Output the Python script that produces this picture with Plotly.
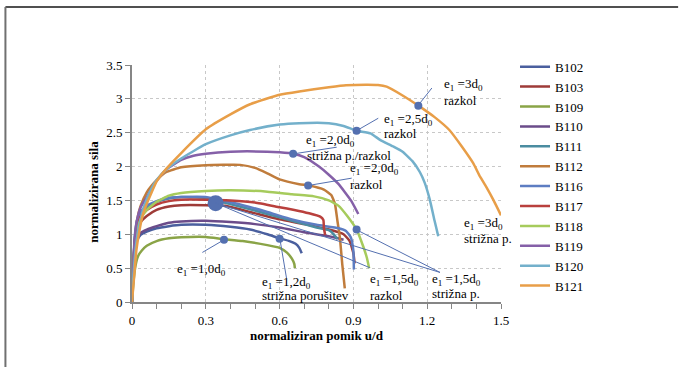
import plotly.graph_objects as go

names = ["B102", "B103", "B109", "B110", "B111", "B112", "B116", "B117", "B118", "B119", "B120", "B121"]
colors = ["#4A5F9E", "#9E3B38", "#8AA447", "#6B4C8A", "#4A8CA0", "#C07C3C",
          "#5D7DC2", "#B9403D", "#A6CB5C", "#8560A8", "#73B0CB", "#E89E48"]

x_B102 = [0, 0.005, 0.012, 0.02, 0.035, 0.06, 0.1, 0.15, 0.2, 0.3, 0.4, 0.48, 0.55, 0.6, 0.64, 0.665, 0.68, 0.69]
y_B102 = [0, 0.4, 0.75, 0.9, 0.99, 1.04, 1.09, 1.12, 1.14, 1.14, 1.11, 1.07, 1.0, 0.94, 0.9, 0.86, 0.8, 0.72]

x_B103 = [0, 0.005, 0.012, 0.02, 0.035, 0.06, 0.1, 0.15, 0.2, 0.3, 0.38, 0.48, 0.6, 0.7, 0.8, 0.86, 0.885, 0.9, 0.905]
y_B103 = [0, 0.45, 0.85, 1.05, 1.18, 1.27, 1.36, 1.41, 1.43, 1.43, 1.42, 1.33, 1.22, 1.15, 1.07, 1.0, 0.9, 0.72, 0.57]

x_B109 = [0, 0.006, 0.015, 0.025, 0.04, 0.06, 0.1, 0.15, 0.2, 0.3, 0.37, 0.45, 0.55, 0.6, 0.63, 0.65, 0.66, 0.662]
y_B109 = [0, 0.3, 0.55, 0.68, 0.76, 0.83, 0.9, 0.94, 0.955, 0.96, 0.93, 0.9, 0.84, 0.8, 0.73, 0.64, 0.56, 0.5]

x_B110 = [0, 0.005, 0.012, 0.02, 0.035, 0.06, 0.1, 0.15, 0.2, 0.3, 0.4, 0.5, 0.6, 0.7, 0.8, 0.86]
y_B110 = [0, 0.42, 0.78, 0.93, 1.02, 1.07, 1.12, 1.17, 1.19, 1.2, 1.18, 1.15, 1.1, 1.03, 0.97, 0.92]

x_B111 = [0, 0.005, 0.012, 0.02, 0.035, 0.06, 0.1, 0.15, 0.2, 0.3, 0.34, 0.45, 0.55, 0.65, 0.75, 0.8, 0.82, 0.835]
y_B111 = [0, 0.5, 0.95, 1.15, 1.3, 1.4, 1.48, 1.53, 1.55, 1.54, 1.5, 1.4, 1.3, 1.2, 1.1, 1.06, 1.0, 0.93]

x_B112 = [0, 0.005, 0.012, 0.02, 0.035, 0.06, 0.08, 0.1, 0.14, 0.2, 0.3, 0.44, 0.5, 0.55, 0.6, 0.68, 0.72,
          0.78, 0.81, 0.825, 0.835, 0.845, 0.855, 0.865]
y_B112 = [0, 0.5, 0.95, 1.2, 1.42, 1.62, 1.72, 1.8, 1.92, 1.99, 2.02, 2.025, 1.98, 1.9, 1.81, 1.74, 1.72,
          1.66, 1.58, 1.45, 1.2, 0.95, 0.55, 0.2]

x_B116 = [0, 0.005, 0.012, 0.02, 0.035, 0.06, 0.1, 0.15, 0.2, 0.3, 0.34, 0.45, 0.55, 0.65, 0.75, 0.84,
          0.87, 0.89, 0.9, 0.902]
y_B116 = [0, 0.55, 1.0, 1.2, 1.33, 1.42, 1.49, 1.54, 1.55, 1.55, 1.52, 1.43, 1.33, 1.22, 1.14, 1.09,
          1.05, 0.95, 0.75, 0.48]

x_B117 = [0, 0.005, 0.012, 0.02, 0.035, 0.06, 0.1, 0.15, 0.2, 0.3, 0.4, 0.5, 0.6, 0.66, 0.72, 0.765,
          0.778, 0.78, 0.785]
y_B117 = [0, 0.48, 0.9, 1.12, 1.26, 1.36, 1.44, 1.49, 1.51, 1.51, 1.5, 1.47, 1.4, 1.36, 1.31, 1.26,
          1.21, 1.1, 0.99]

x_B118 = [0, 0.005, 0.012, 0.02, 0.035, 0.06, 0.1, 0.15, 0.2, 0.3, 0.4, 0.55, 0.65, 0.74, 0.8, 0.84,
          0.875, 0.913, 0.94, 0.955, 0.964]
y_B118 = [0, 0.45, 0.85, 1.05, 1.22, 1.36, 1.48, 1.57, 1.61, 1.64, 1.65, 1.63, 1.59, 1.56, 1.5, 1.42,
          1.27, 1.07, 0.82, 0.65, 0.5]

x_B119 = [0, 0.005, 0.012, 0.02, 0.035, 0.06, 0.08, 0.1, 0.14, 0.2, 0.25, 0.3, 0.4, 0.55, 0.6, 0.655, 0.7,
          0.76, 0.8, 0.84, 0.89, 0.92]
y_B119 = [0, 0.5, 0.95, 1.2, 1.4, 1.55, 1.67, 1.79, 1.96, 2.1, 2.16, 2.19, 2.22, 2.22, 2.21, 2.19, 2.14,
          2.0, 1.88, 1.74, 1.5, 1.3]

x_B120 = [0, 0.006, 0.015, 0.025, 0.04, 0.06, 0.08, 0.1, 0.14, 0.2, 0.3, 0.4, 0.48, 0.6, 0.68, 0.8,
          0.86, 0.913, 0.97, 1.01, 1.06, 1.1, 1.14, 1.17, 1.19, 1.21, 1.23, 1.245]
y_B120 = [0, 0.4, 0.8, 1.05, 1.3, 1.52, 1.68, 1.8, 1.96, 2.12, 2.33, 2.46, 2.54, 2.62, 2.64, 2.64,
          2.6, 2.53, 2.49, 2.39, 2.3, 2.22, 2.08, 1.92, 1.76, 1.52, 1.2, 0.97]

x_B121 = [0, 0.008, 0.018, 0.03, 0.045, 0.06, 0.08, 0.1, 0.14, 0.2, 0.3, 0.4, 0.48, 0.6, 0.68, 0.8,
          0.87, 0.95, 1.0, 1.035, 1.1, 1.164, 1.23, 1.29, 1.34, 1.387, 1.415, 1.44, 1.47, 1.5]
y_B121 = [0, 0.35, 0.77, 1.05, 1.3, 1.45, 1.62, 1.78, 1.97, 2.2, 2.55, 2.77, 2.92, 3.06, 3.11, 3.17,
          3.2, 3.21, 3.205, 3.18, 3.05, 2.9, 2.73, 2.54, 2.3, 2.05, 1.85, 1.7, 1.5, 1.28]

series_x = [x_B102, x_B103, x_B109, x_B110, x_B111, x_B112, x_B116, x_B117, x_B118, x_B119, x_B120, x_B121]
series_y = [y_B102, y_B103, y_B109, y_B110, y_B111, y_B112, y_B116, y_B117, y_B118, y_B119, y_B120, y_B121]

# marked points on curves
mark_x = [1.164, 0.913, 0.655, 0.716, 0.913, 0.374, 0.60]
mark_y = [2.90, 2.53, 2.19, 1.72, 1.07, 0.92, 0.935]
big_mark_x = [0.34]
big_mark_y = [1.46]

x_ticks = [0, 0.3, 0.6, 0.9, 1.2, 1.5]
x_tick_text = ["0", "0.3", "0.6", "0.9", "1.2", "1.5"]
y_ticks = [0, 0.5, 1, 1.5, 2, 2.5, 3, 3.5]
y_tick_text = ["0", "0.5", "1", "1.5", "2", "2.5", "3", "3.5"]

FONT = "Liberation Serif"
MK = "#5470B0"

fig = go.Figure()
for n, c, xs, ys in zip(names, colors, series_x, series_y):
    fig.add_trace(go.Scatter(x=xs, y=ys, mode="lines", name=n,
                             line=dict(color=c, width=2.5, shape="spline", smoothing=0.4)))

fig.add_trace(go.Scatter(x=mark_x, y=mark_y, mode="markers", showlegend=False,
                         marker=dict(color=MK, size=8)))
fig.add_trace(go.Scatter(x=big_mark_x, y=big_mark_y, mode="markers", showlegend=False,
                         marker=dict(color=MK, size=16)))

# leader lines (x0, y0, x1, y1)
leaders = [
    (1.162, 2.898, 1.219, 3.16),
    (0.913, 2.53, 1.001, 2.714),
    (0.655, 2.187, 0.832, 2.286),
    (0.716, 1.72, 0.893, 1.829),
    (0.374, 0.919, 0.286, 0.732),
    (0.601, 0.934, 0.628, 0.354),
    (0.34, 1.46, 0.967, 0.506),
    (0.34, 1.46, 1.252, 0.437),
    (0.913, 1.066, 1.252, 0.437),
]
shapes = []
for x0, y0, x1, y1 in leaders:
    shapes.append(dict(type="line", xref="x", yref="y", x0=x0, y0=y0, x1=x1, y1=y1,
                       line=dict(color=MK, width=1)))
# outer frame (partial)
shapes.append(dict(type="line", xref="paper", yref="paper", x0=-0.343, y0=1.2444, x1=1.48, y1=1.2444,
                   line=dict(color="#505050", width=2)))
shapes.append(dict(type="line", xref="paper", yref="paper", x0=-0.343, y0=1.2444, x1=-0.343, y1=-0.28,
                   line=dict(color="#707070", width=2)))

e1 = lambda v: "e<sub>1</sub> =" + v + "d<sub>0</sub>"
labels = [
    (1.260, 3.205, e1("3")), (1.260, 2.983, "razkol"),
    (1.015, 2.695, e1("2,5")), (1.015, 2.485, "razkol"),
    (0.699, 2.385, e1("2,0")), (0.703, 2.168, "strižna p./razkol"),
    (0.879, 1.968, e1("2,0")), (0.879, 1.735, "razkol"),
    (0.175, 0.487, e1("1,0")),
    (0.520, 0.29, e1("1,2")), (0.520, 0.098, "strižna porušitev"),
    (0.961, 0.33, e1("1,5")), (0.961, 0.1, "razkol"),
    (1.211, 0.33, e1("1,5")), (1.211, 0.122, "strižna p."),
    (1.340, 1.165, e1("3")), (1.340, 0.938, "strižna p."),
]
annotations = []
for x, y, t in labels:
    annotations.append(dict(x=x, y=y, xref="x", yref="y", text=t, showarrow=False,
                            xanchor="left", yanchor="middle",
                            font=dict(family=FONT, size=13, color="#000")))
annotations.append(dict(x=-0.103, y=0.465, xref="paper", yref="paper", textangle=-90,
                        text="<b>normalizirana sila</b>", showarrow=False,
                        xanchor="center", yanchor="middle",
                        font=dict(family=FONT, size=13, color="#000")))

fig.update_layout(
    width=679, height=367,
    margin=dict(l=132, r=178, t=65, b=65),
    paper_bgcolor="white", plot_bgcolor="white",
    font=dict(family=FONT, size=13, color="#000"),
    shapes=shapes, annotations=annotations,
    legend=dict(x=1.038, y=1.056, xanchor="left", yanchor="top", maxheight=320,
                font=dict(family=FONT, size=13, color="#000"),
                bgcolor="rgba(0,0,0,0)"),
    xaxis=dict(range=[0, 1.5], tickvals=x_ticks, ticktext=x_tick_text,
               showgrid=True, gridcolor="#C8C8C8", griddash="dot", gridwidth=1,
               zeroline=False, showline=True, linecolor="#868686", linewidth=2,
               ticks="outside", ticklen=5, tickcolor="#868686",
               minor=dict(dtick=0.1, tick0=0, ticks="outside", ticklen=5, tickcolor="#868686", showgrid=False),
               tickfont=dict(family=FONT, size=13),
               title=dict(text="<b>normaliziran pomik u/d</b>", font=dict(family=FONT, size=13), standoff=4)),
    yaxis=dict(range=[0, 3.5], tickvals=y_ticks, ticktext=y_tick_text,
               showgrid=True, gridcolor="#C8C8C8", griddash="dot", gridwidth=1,
               zeroline=False, showline=True, linecolor="#868686", linewidth=2,
               ticks="outside", ticklen=5, tickcolor="#868686",
               tickfont=dict(family=FONT, size=13)),
)

fig.write_html("out.html", config={"displayModeBar": False})
